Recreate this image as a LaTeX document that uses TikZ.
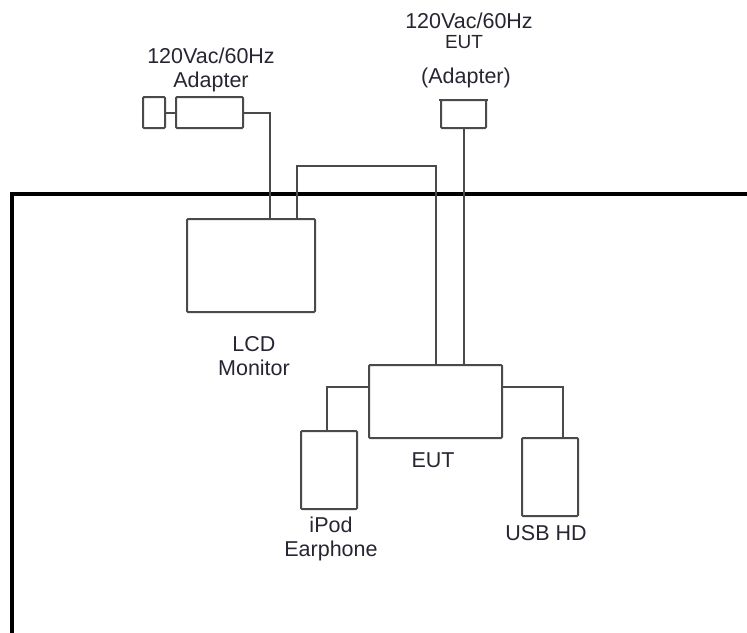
\documentclass[tikz,border=0pt]{standalone}
\usepackage{fontspec}
\setmainfont{Liberation Sans}
\definecolor{linegray}{HTML}{4A4A4A}
\definecolor{txtgray}{HTML}{262633}
\begin{document}
\begin{tikzpicture}[x=1pt,y=-1pt,
  box/.style={draw=linegray, line width=2pt, rounded corners=1pt, inner sep=0pt, outer sep=0pt, anchor=north west},
  wire/.style={draw=linegray, line width=2pt},
  frame/.style={draw=black, line width=4.5pt},
  lbl/.style={text=txtgray, font=\fontsize{21.5}{24.5}\selectfont, align=center, inner sep=0pt}]
\useasboundingbox (0,0) rectangle (747,632);
% room frame
\coordinate (fbl) at (12,634);
\coordinate (ftl) at (12,194);
\coordinate (ftr) at (749,194);
\draw[frame] (fbl) -- (ftl) -- (ftr);
% boxes
\node[box, minimum width=22pt, minimum height=31pt] (plug) at (143,97) {};
\node[box, minimum width=67pt, minimum height=31pt] (adp) at (176,97) {};
\node[box, minimum width=128pt, minimum height=93pt] (lcd) at (187,219) {};
\node[box, minimum width=45pt, minimum height=28pt] (eutadp) at (441,100) {};
\node[box, minimum width=133pt, minimum height=73pt] (eut) at (369,365) {};
\node[box, minimum width=56pt, minimum height=78pt] (ipod) at (301,431) {};
\node[box, minimum width=56pt, minimum height=78pt] (usb) at (522,438) {};
% adapter top bar
\draw[wire] ([xshift=-2pt]eutadp.north west) -- ([xshift=2pt]eutadp.north east);
% connection points
\coordinate (lcdA) at ([xshift=83pt]lcd.north west);
\coordinate (lcdB) at ([xshift=110pt]lcd.north west);
\coordinate (eutA) at ([xshift=67pt]eut.north west);
\coordinate (eutL) at ([yshift=-22pt]eut.north west);
\coordinate (eutR) at ([yshift=-22pt]eut.north east);
\coordinate (ipodA) at ([xshift=26pt]ipod.north west);
\coordinate (usbA) at ([xshift=41pt]usb.north west);
% wires
\draw[wire] (plug.east) -- (adp.west);
\draw[wire] (adp.east) -| (lcdA);
\draw[wire] (lcdB) -- ++(0,-53) -| (eutA);
\draw[wire] (eutadp.south) -- (eutadp.south |- eut.north);
\draw[wire] (eutL) -| (ipodA);
\draw[wire] (eutR) -| (usbA);
% labels
\node[lbl] (ladp) at (211,70) {120Vac/60Hz\\Adapter};
\node[lbl] (lt1) at (469,21) {120Vac/60Hz};
\node[lbl, font=\fontsize{19}{22}\selectfont] (lt2) at (464,42) {EUT};
\node[lbl] (lt3) at (466,78) {(Adapter)};
\node[lbl] (llcd) at (254,356) {LCD\\Monitor};
\node[lbl] (leut) at (433,460) {EUT};
\node[lbl] (lipod) at (331,539) {iPod\\Earphone};
\node[lbl] (lusb) at (546,533) {USB HD};
\end{tikzpicture}
\end{document}
